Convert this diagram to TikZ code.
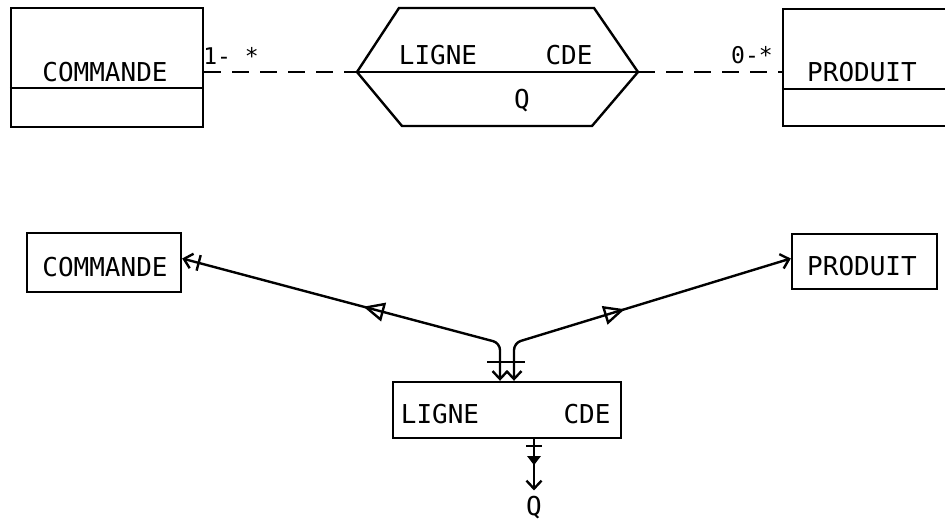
\documentclass[tikz,border=0pt]{standalone}
\usepackage{fontspec}
\setmonofont{DejaVu Sans Mono}
\usetikzlibrary{arrows.meta,positioning,decorations.markings,calc}

\tikzset{
  barb/.tip={Straight Barb[length=8pt,width=15pt,line width=2.4pt]},
  entbox/.style={draw,line width=2.4pt,inner sep=0pt},
  lbl/.style={font=\ttfamily\fontsize{26}{30}\selectfont,inner sep=1pt},
  card/.style={font=\ttfamily\fontsize{23}{26}\selectfont,inner sep=0pt},
  link/.style={line width=2.4pt},
  dlink/.style={link,dash pattern=on 17pt off 11pt}
}

\begin{document}
\begin{tikzpicture}[x=1pt,y=-1pt]
  \useasboundingbox (0,0) rectangle (945,524);
  % Top: entities and the association
  \node[entbox,minimum width=192pt,minimum height=119pt] (cmdTop) at (107,67.5) {};
  \node[entbox,minimum width=170pt,minimum height=117pt] (prodTop) at (868,67.5) {};
  \draw[link] (cmdTop.west |- 0,88) -- (cmdTop.east |- 0,88);
  \draw[link] (prodTop.west |- 0,89) -- (prodTop.east |- 0,89);
  \node[lbl] (cmdTopT) at (105,72) {COMMANDE};
  \node[lbl] (prodTopT) at (862,72) {PRODUIT};
  \coordinate (hxW) at (357,72);
  \coordinate (hxE) at (638,72);
  \draw[link] (hxW) -- (399,8) -- (594,8) -- (hxE) -- (592,126) -- (402,126) -- cycle;
  \draw[link] (hxW) -- (hxE);
  \node[lbl] (ligTopT) at (438,55) {LIGNE};
  \node[lbl] (cdeTopT) at (569,55) {CDE};
  \node[lbl] (qTopT) at (522,101) {Q};
  \draw[dlink] (cmdTop.east |- hxW) -- (hxW);
  \draw[dlink] (hxE) -- (prodTop.west |- hxE);
  \node[card] (cardCmd) at (231,56) {1- *};
  \node[card] (cardProd) at (752,55) {0-*};

  % Bottom: record structure
  \node[entbox,minimum width=154pt,minimum height=59pt] (cmdBot) at (104,262.5) {};
  \node[entbox,minimum width=145pt,minimum height=55pt] (prodBot) at (864.5,261.5) {};
  \node[entbox,minimum width=228pt,minimum height=56pt] (ligne) at (507,410) {};
  \node[lbl] (cmdBotT) at (105,267) {COMMANDE};
  \node[lbl] (prodBotT) at (862,266) {PRODUIT};
  \node[lbl] (ligBotT) at (440,414) {LIGNE};
  \node[lbl] (cdeBotT) at (587,414) {CDE};
  \node[lbl,inner sep=0pt] (qT) at (534,508) {Q};
  \coordinate (jL) at (500,343);
  \coordinate (jR) at (514,343);
  \coordinate (cmdBotE) at ($(cmdBot.east)+(0,-4)$);
  \coordinate (prodBotW) at ($(prodBot.west)+(0,-3)$);
  \draw[link,rounded corners=7pt,barb-barb] (ligne.north -| jL) -- (jL) -- (cmdBotE);
  \draw[link,rounded corners=7pt,barb-barb] (ligne.north -| jR) -- (jR) -- (prodBotW);
  \path[decorate,decoration={markings,
      mark=at position 0.43 with {\arrow[link]{Triangle[open,length=21pt,width=19pt]}},
      mark=at position -17pt with {\draw[link] (0pt,-8pt) -- (0pt,8pt);}}]
    (jL) -- (cmdBotE);
  \path[decorate,decoration={markings,
      mark=at position 0.4 with {\arrow[link]{Triangle[open,length=21pt,width=19pt]}}}]
    (jR) -- (prodBotW);
  \draw[link] ($(ligne.north -| jL)+(-13,-19)$) -- ($(ligne.north -| jR)+(11,-19)$);
  \draw[link,-barb,shorten >=6pt] (ligne.south -| qT) -- (qT.north);
  \path[decorate,decoration={markings,
      mark=at position 7pt with {\draw[link] (0pt,-8pt) -- (0pt,8pt);},
      mark=at position 26pt with {\arrow[link]{Triangle[length=9pt,width=13pt]}}}]
    (ligne.south -| qT) -- (qT.north);
\end{tikzpicture}
\end{document}
